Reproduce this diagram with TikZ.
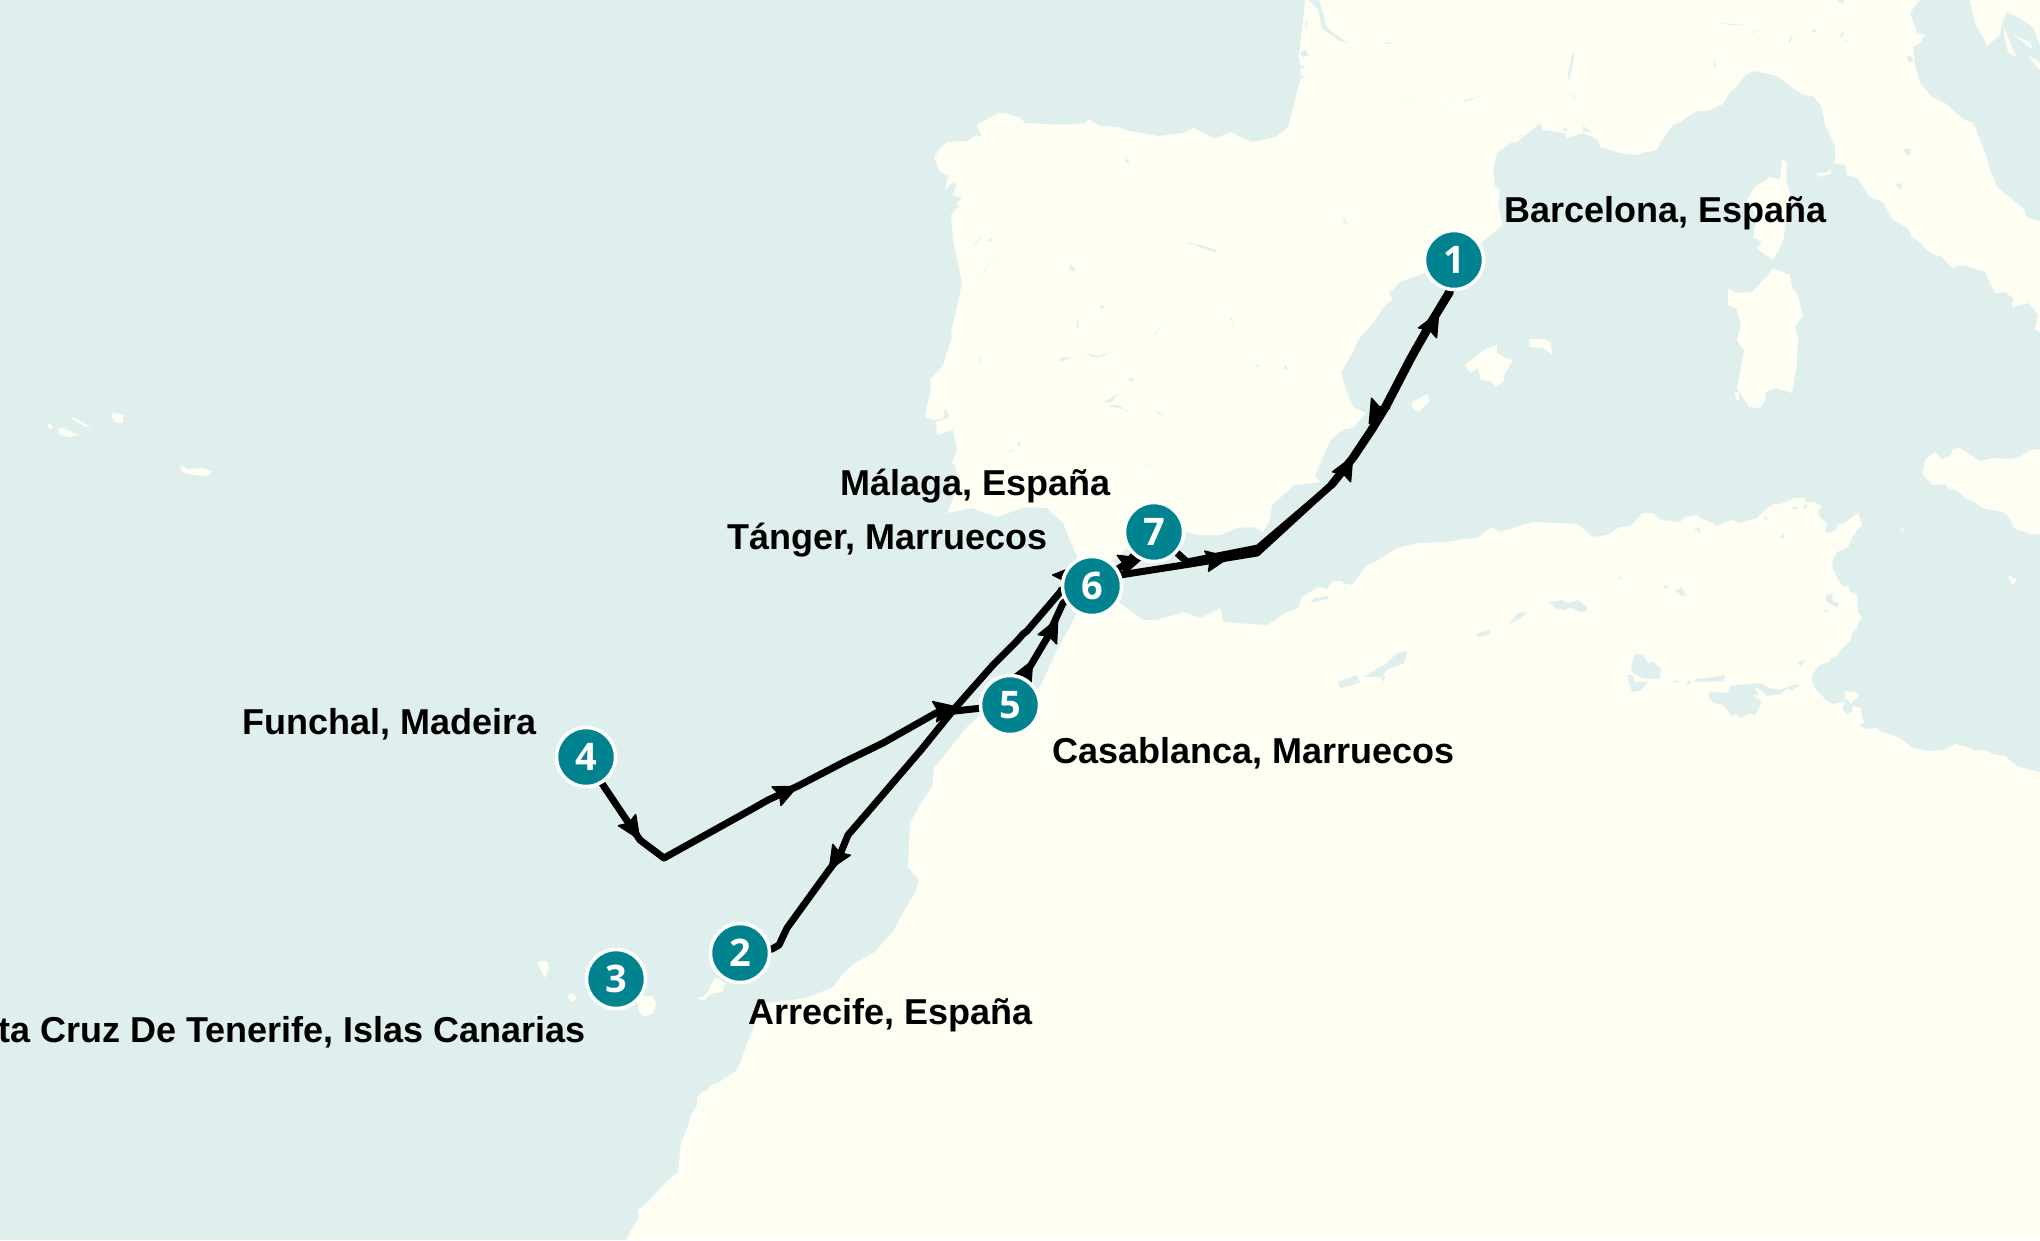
\documentclass[tikz,border=0pt]{standalone}
\usepackage{fontspec}
\setmainfont{Liberation Sans}
\newfontfamily\digfont{Open Sans}
\usetikzlibrary{arrows.meta}
\pgfdeclarelayer{maplayer}
\pgfdeclarelayer{routelayer}
\pgfsetlayers{maplayer,routelayer,main}
\definecolor{seacol}{HTML}{DFEFEE}
\definecolor{landcol}{HTML}{FEFFF2}
\definecolor{tealcol}{HTML}{00838F}
\tikzset{
  land/.style={fill=landcol,draw=none},
  water/.style={fill=seacol,draw=none},
  routeline/.style={draw=black,line width=7pt,line join=round,line cap=round},
  headpart/.style={draw=black,line width=1.5pt,line join=round,-{Stealth[round,length=26pt,width=23pt,inset=4pt]}},
  marker/.style={circle,fill=tealcol,draw=white,line width=3.5pt,minimum size=59pt,inner sep=0pt,text=white,font=\digfont\bfseries\fontsize{38}{38}\selectfont},
  placelabel/.style={inner sep=0pt,text=black,font=\bfseries\fontsize{36}{40}\selectfont},
}
\begin{document}
\begin{tikzpicture}[x=1pt,y=-1pt]
\useasboundingbox (0,0) rectangle (2040,1240);
\clip (0,0) rectangle (2040,1240);

% markers
\node[marker] (m1) at (1454,260) {1};
\node[marker] (m2) at (740,953) {2};
\node[marker] (m3) at (616,979) {3};
\node[marker] (m4) at (586,757) {4};
\node[marker] (m5) at (1010,705) {5};
\node[marker] (m6) at (1092,586) {6};
\node[marker] (m7) at (1154,532) {7};

% labels
\node[placelabel,anchor=base west] (l1) at (1504,222) {Barcelona, España};
\node[placelabel,anchor=base west] (l2) at (748,1024) {Arrecife, España};
\node[placelabel,anchor=base east] (l3) at (586,1042) {Santa Cruz De Tenerife, Islas Canarias};
\node[placelabel,anchor=base west] (l4) at (242,734) {Funchal, Madeira};
\node[placelabel,anchor=base west] (l5) at (1052,763) {Casablanca, Marruecos};
\node[placelabel,anchor=base west] (l6) at (727,549) {Tánger, Marruecos};
\node[placelabel,anchor=base west] (l7) at (840,495) {Málaga, España};

\begin{pgfonlayer}{maplayer}
\fill[seacol] (0,0) rectangle (2040,1240);
% Europe
\fill[land] (1305,0) -- (1303,20) -- (1299,55) -- (1301,77) -- (1295,100) -- (1288,127) -- (1276,137) -- (1263,140) -- (1252,142) -- (1230,132) -- (1217,138) -- (1213,138) -- (1193,128) -- (1183,133) -- (1158,136) -- (1130,131) -- (1117,127) -- (1100,126) -- (1089,119) -- (1085,123) -- (1063,125) -- (1025,123) -- (1020,118) -- (1005,113) -- (998,113) -- (977,125) -- (982,138) -- (977,135) -- (967,141) -- (948,142) -- (940,148) -- (934,158) -- (940,172) -- (948,175) -- (945,190) -- (953,182) -- (957,185) -- (952,195) -- (962,198) -- (955,205) -- (960,205) -- (951,215) -- (953,240) -- (962,283) -- (957,307) -- (951,333) -- (952,337) -- (943,365) -- (930,380) -- (931,388) -- (927,407) -- (925,417) -- (935,420) -- (943,418) -- (945,408) -- (950,417) -- (936,422) -- (937,435) -- (953,430) -- (957,450) -- (952,463) -- (956,467) -- (958,487) -- (947,513) -- (972,508) -- (997,517) -- (1025,507) -- (1047,508) -- (1063,523) -- (1067,533) -- (1073,547) -- (1077,557) -- (1092,575) -- (1117,557) -- (1127,548) -- (1187,532) -- (1200,535) -- (1221,535) -- (1237,528) -- (1254,527) -- (1263,532) -- (1270,520) -- (1272,505) -- (1294,485) -- (1320,482) -- (1315,475) -- (1326,450) -- (1331,440) -- (1342,430) -- (1353,428) -- (1366,413) -- (1353,407) -- (1346,390) -- (1341,373) -- (1355,348) -- (1358,340) -- (1374,322) -- (1385,305) -- (1393,300) -- (1389,293) -- (1400,282) -- (1427,272) -- (1482,242) -- (1493,233) -- (1503,225) -- (1498,207) -- (1500,190) -- (1495,187) -- (1493,170) -- (1497,153) -- (1510,143) -- (1517,142) -- (1540,123) -- (1543,130) -- (1565,133) -- (1567,138) -- (1583,133) -- (1598,140) -- (1600,147) -- (1620,153) -- (1635,155) -- (1647,152) -- (1657,150) -- (1660,143) -- (1673,125) -- (1680,122) -- (1697,111) -- (1707,111) -- (1723,104) -- (1730,92) -- (1738,85) -- (1745,75) -- (1754,71) -- (1777,76) -- (1790,86) -- (1803,95) -- (1813,96) -- (1822,107) -- (1825,125) -- (1835,146) -- (1835,160) -- (1833,163) -- (1845,165) -- (1847,175) -- (1857,178) -- (1870,197) -- (1883,202) -- (1893,220) -- (1908,228) -- (1912,237) -- (1920,242) -- (1930,253) -- (1942,257) -- (1952,268) -- (1963,265) -- (1973,268) -- (1985,272) -- (1995,293) -- (2005,292) -- (2013,298) -- (2012,307) -- (2029,303) -- (2038,315) -- (2035,330) -- (2040,332) -- (2040,222) -- (2027,217) -- (2023,208) -- (2013,200) -- (1997,187) -- (1990,170) -- (1985,152) -- (1973,123) -- (1963,119) -- (1945,103) -- (1932,97) -- (1920,83) -- (1915,65) -- (1913,47) -- (1920,43) -- (1925,35) -- (1917,33) -- (1910,13) -- (1918,2) -- (1920,0) -- cycle;
% Balkans and islands
\fill[land] (1970,0) -- (1975,23) -- (1982,35) -- (1987,46) -- (2000,35) -- (2002,23) -- (2007,12) -- (2018,17) -- (2033,27) -- (2040,45) -- (2040,0) -- cycle;
\fill[land] (2003,25) -- (2010,42) -- (2017,58) -- (2008,52) -- (2005,40) -- cycle;
\fill[land] (2014,35) -- (2030,42) -- (2033,50) -- (2025,44) -- cycle;
\fill[land] (2028,55) -- (2040,62) -- (2040,70) -- (2035,65) -- cycle;
% Corsica
\fill[land] (1782,160) -- (1787,162) -- (1786,180) -- (1790,193) -- (1785,222) -- (1784,238) -- (1780,247) -- (1773,260) -- (1756,248) -- (1762,242) -- (1753,237) -- (1757,217) -- (1747,200) -- (1755,187) -- (1770,177) -- (1780,180) -- cycle;
% Sardinia
\fill[land] (1773,268) -- (1790,275) -- (1792,288) -- (1797,293) -- (1803,315) -- (1795,327) -- (1798,337) -- (1797,363) -- (1792,393) -- (1776,388) -- (1766,392) -- (1765,400) -- (1760,408) -- (1749,407) -- (1737,388) -- (1741,367) -- (1744,350) -- (1737,340) -- (1741,325) -- (1736,308) -- (1728,305) -- (1728,288) -- (1736,293) -- (1752,292) -- (1768,275) -- cycle;
\fill[land] (1735,392) -- (1739,392) -- (1739,400) -- (1736,400) -- cycle;
% Elba
\fill[land] (1817,173) -- (1828,172) -- (1830,168) -- (1831,174) -- (1818,177) -- cycle;
% Balearics
\fill[land] (1465,365) -- (1484,350) -- (1497,345) -- (1497,353) -- (1505,358) -- (1513,360) -- (1505,373) -- (1503,382) -- (1496,386) -- (1489,381) -- (1481,380) -- (1478,368) -- (1470,373) -- cycle;
\fill[land] (1529,339) -- (1545,339) -- (1551,343) -- (1552,354) -- (1543,348) -- (1530,347) -- cycle;
\fill[land] (1412,402) -- (1428,394) -- (1429,402) -- (1418,412) -- (1412,408) -- cycle;
% Sicily, Malta, Pantelleria
\fill[land] (1922,473) -- (1926,459) -- (1935,452) -- (1942,459) -- (1951,455) -- (1953,449) -- (1960,448) -- (1980,461) -- (1993,458) -- (2008,459) -- (2020,457) -- (2030,450) -- (2037,449) -- (2040,450) -- (2040,534) -- (2030,534) -- (2014,528) -- (2009,517) -- (2003,512) -- (1982,508) -- (1973,501) -- (1968,500) -- (1957,491) -- (1948,488) -- (1945,484) -- (1932,485) -- cycle;
\fill[land] (2008,575) -- (2017,580) -- (2013,584) -- (2011,584) -- cycle;
\fill[land] (1900,527) -- (1904,529) -- (1902,532) -- cycle;
% Africa
\fill[land] (626,1240) -- (630,1232) -- (639,1217) -- (638,1210) -- (648,1202) -- (665,1183) -- (678,1172) -- (681,1142) -- (688,1127) -- (690,1117) -- (697,1105) -- (697,1098) -- (702,1092) -- (707,1090) -- (712,1084) -- (718,1083) -- (737,1070) -- (745,1050) -- (747,1043) -- (753,1030) -- (757,1010) -- (767,1003) -- (807,998) -- (833,987) -- (842,975) -- (852,965) -- (875,952) -- (887,938) -- (893,932) -- (900,918) -- (915,893) -- (919,880) -- (908,867) -- (910,823) -- (921,803) -- (932,787) -- (934,768) -- (967,727) -- (982,713) -- (1010,705) -- (1040,687) -- (1057,650) -- (1070,627) -- (1077,613) -- (1092,600) -- (1120,603) -- (1143,620) -- (1157,620) -- (1183,612) -- (1200,618) -- (1217,610) -- (1220,607) -- (1223,622) -- (1250,624) -- (1268,625) -- (1285,613) -- (1298,608) -- (1302,597) -- (1318,587) -- (1327,589) -- (1333,581) -- (1342,581) -- (1343,583) -- (1352,585) -- (1367,565) -- (1375,562) -- (1397,548) -- (1417,543) -- (1447,542) -- (1463,539) -- (1477,538) -- (1492,527) -- (1500,532) -- (1513,528) -- (1533,522) -- (1577,524) -- (1593,537) -- (1607,535) -- (1620,527) -- (1631,526) -- (1642,513) -- (1653,513) -- (1661,520) -- (1680,522) -- (1685,517) -- (1697,515) -- (1702,519) -- (1708,521) -- (1717,526) -- (1731,520) -- (1740,523) -- (1757,518) -- (1766,509) -- (1775,503) -- (1778,505) -- (1795,498) -- (1804,498) -- (1806,502) -- (1814,502) -- (1823,507) -- (1818,510) -- (1819,516) -- (1827,524) -- (1825,532) -- (1828,533) -- (1836,530) -- (1838,524) -- (1843,524) -- (1858,513) -- (1862,525) -- (1857,530) -- (1852,538) -- (1848,547) -- (1837,552) -- (1832,562) -- (1833,570) -- (1842,586) -- (1849,587) -- (1849,591) -- (1857,594) -- (1858,612) -- (1862,617) -- (1857,625) -- (1857,629) -- (1852,633) -- (1850,641) -- (1841,649) -- (1837,656) -- (1832,657) -- (1828,662) -- (1819,665) -- (1812,675) -- (1812,682) -- (1817,691) -- (1826,700) -- (1833,704) -- (1845,702) -- (1842,710) -- (1847,714) -- (1853,711) -- (1853,706) -- (1861,708) -- (1862,718) -- (1865,722) -- (1859,726) -- (1867,729) -- (1877,728) -- (1882,732) -- (1898,737) -- (1913,748) -- (1928,751) -- (1943,750) -- (1956,744) -- (1967,747) -- (1975,751) -- (1985,750) -- (1995,755) -- (2005,756) -- (2017,766) -- (2027,769) -- (2040,772) -- (2040,1240) -- cycle;
\fill[land] (1845,691) -- (1855,692) -- (1859,695) -- (1850,704) -- (1849,700) -- (1845,699) -- cycle;
% Canary islands
\fill[land] (637,1003) -- (642,996) -- (653,996) -- (656,1005) -- (653,1013) -- (645,1017) -- (640,1013) -- cycle;
\fill[land] (715,977) -- (725,983) -- (722,992) -- (710,994) -- (704,1001) -- (697,998) -- (702,997) -- (708,992) -- cycle;
\fill[land] (537,962) -- (547,961) -- (549,968) -- (545,978) -- cycle;
\fill[land] (567,995) -- (573,993) -- (577,998) -- (571,1002) -- cycle;
\fill[land] (533,1016) -- (540,1014) -- (538,1018) -- cycle;
% Azores
\fill[land] (47,425) -- (49,423) -- (53,427) -- (50,429) -- cycle;
\fill[land] (58,429) -- (62,428) -- (79,435) -- (70,437) -- (60,435) -- cycle;
\fill[land] (69,417) -- (77,419) -- (92,428) -- (82,425) -- cycle;
\fill[land] (111,415) -- (113,413) -- (123,415) -- (123,423) -- (115,422) -- cycle;
\fill[land] (180,467) -- (183,466) -- (187,469) -- (203,468) -- (212,471) -- (209,475) -- (202,476) -- (183,473) -- cycle;
% inland water, North Africa
\fill[water] (1310,603) -- (1315,598) -- (1328,596) -- (1328,599) -- cycle;
\fill[water] (1338,682) -- (1356,675) -- (1360,682) -- (1353,685) -- (1340,688) -- cycle;
\fill[water] (1363,677) -- (1387,663) -- (1397,653) -- (1407,651) -- (1405,663) -- (1388,669) -- (1382,677) -- cycle;
\fill[water] (1380,675) -- (1385,677) -- (1383,682) -- cycle;
\fill[water] (1475,634) -- (1490,630) -- (1490,634) -- (1478,637) -- cycle;
\fill[water] (1509,624) -- (1518,613) -- (1526,612) -- (1523,617) -- cycle;
\fill[water] (1549,602) -- (1562,600) -- (1568,603) -- (1578,600) -- (1587,607) -- (1587,611) -- (1580,612) -- (1570,607) -- (1565,610) -- (1555,608) -- cycle;
\fill[water] (1635,654) -- (1643,655) -- (1648,663) -- (1653,662) -- (1661,669) -- (1659,679) -- (1643,678) -- (1633,673) -- (1631,667) -- cycle;
\fill[water] (1627,675) -- (1632,675) -- (1635,682) -- (1647,682) -- (1642,690) -- (1632,692) -- cycle;
\fill[water] (1663,585) -- (1669,587) -- (1666,589) -- cycle;
\fill[water] (1675,591) -- (1682,588) -- (1685,596) -- cycle;
\fill[water] (1619,577) -- (1623,579) -- (1619,579) -- cycle;
\fill[water] (1673,680) -- (1680,682) -- (1673,682) -- cycle;
\fill[water] (1686,684) -- (1690,679) -- (1691,684) -- cycle;
\fill[water] (1693,682) -- (1698,678) -- (1701,679) -- (1725,675) -- (1723,681) -- cycle;
\fill[water] (1708,695) -- (1710,692) -- (1728,693) -- (1730,686) -- (1760,683) -- (1770,688) -- (1780,690) -- (1792,685) -- (1801,684) -- (1793,690) -- (1787,689) -- (1780,694) -- (1767,696) -- (1760,689) -- (1754,687) -- (1759,695) -- (1753,695) -- (1762,702) -- (1755,715) -- (1750,713) -- (1740,718) -- (1735,714) -- (1732,716) -- (1723,705) -- (1713,703) -- cycle;
\fill[water] (1826,595) -- (1832,594) -- (1833,602) -- (1839,602) -- (1837,608) -- (1826,601) -- cycle;
\fill[water] (1823,612) -- (1827,609) -- (1829,611) -- cycle;
\fill[water] (1797,662) -- (1807,660) -- (1800,666) -- cycle;
\fill[water] (1694,529) -- (1700,527) -- (1700,533) -- cycle;
\fill[water] (1792,507) -- (1799,507) -- (1795,510) -- cycle;
\fill[water] (1803,509) -- (1806,502) -- (1807,508) -- cycle;
\fill[water] (1763,516) -- (1768,518) -- (1766,520) -- cycle;
\fill[water] (1779,538) -- (1784,534) -- (1784,538) -- cycle;
\fill[water] (1680,587) -- (1682,587) -- (1685,596) -- (1680,595) -- cycle;
\fill[water] (1125,158) -- (1130,162) -- (1126,163) -- cycle;
% inland water, Iberia
\fill[water] (1186,242) -- (1200,245) -- (1217,250) -- (1215,252) -- (1200,247) -- cycle;
\fill[water] (973,244) -- (983,236) -- (977,243) -- cycle;
\fill[water] (987,241) -- (992,238) -- (991,242) -- cycle;
\fill[water] (982,274) -- (997,253) -- (984,272) -- cycle;
\fill[water] (1068,270) -- (1071,264) -- (1076,271) -- cycle;
\fill[water] (1100,309) -- (1102,304) -- (1104,307) -- cycle;
\fill[water] (1076,328) -- (1077,322) -- (1079,320) -- (1078,327) -- cycle;
\fill[water] (1152,337) -- (1163,325) -- (1155,335) -- cycle;
\fill[water] (1230,318) -- (1232,318) -- (1233,324) -- cycle;
\fill[water] (1060,358) -- (1072,357) -- (1061,362) -- cycle;
\fill[water] (1085,353) -- (1097,356) -- (1111,352) -- (1100,357) -- (1092,357) -- cycle;
\fill[water] (1128,379) -- (1134,378) -- (1132,382) -- cycle;
\fill[water] (1104,402) -- (1118,394) -- (1112,402) -- cycle;
\fill[water] (1107,406) -- (1118,405) -- (1128,412) -- (1120,408) -- cycle;
\fill[water] (1156,410) -- (1163,415) -- (1158,414) -- cycle;
\fill[water] (1255,363) -- (1260,367) -- (1256,366) -- cycle;
\fill[water] (1284,365) -- (1289,369) -- (1285,369) -- cycle;
\fill[water] (979,355) -- (982,362) -- (980,362) -- cycle;
\fill[water] (1008,452) -- (1015,449) -- (1011,452) -- cycle;
\fill[water] (1017,445) -- (1019,441) -- (1021,446) -- cycle;
\fill[water] (1142,466) -- (1152,463) -- (1147,465) -- cycle;
% inland water, France and Italy
\fill[water] (1309,0) -- (1319,0) -- (1322,10) -- (1327,28) -- (1340,38) -- (1348,44) -- (1338,40) -- (1322,28) -- (1318,10) -- cycle;
\fill[water] (1300,53) -- (1305,50) -- (1309,55) -- (1302,57) -- cycle;
\fill[water] (1300,65) -- (1305,67) -- (1300,68) -- cycle;
\fill[water] (1300,75) -- (1306,77) -- (1300,78) -- cycle;
\fill[water] (1305,22) -- (1307,21) -- (1306,30) -- cycle;
\fill[water] (1382,43) -- (1393,42) -- (1388,44) -- cycle;
\fill[water] (1404,93) -- (1412,107) -- (1406,97) -- cycle;
\fill[water] (1438,107) -- (1453,101) -- (1441,106) -- cycle;
\fill[water] (1462,101) -- (1483,95) -- (1467,101) -- cycle;
\fill[water] (1573,50) -- (1574,57) -- (1569,82) -- (1568,75) -- cycle;
\fill[water] (1572,93) -- (1576,98) -- (1574,99) -- cycle;
\fill[water] (1343,217) -- (1348,224) -- (1344,223) -- cycle;
\fill[water] (1562,130) -- (1567,127) -- (1566,132) -- cycle;
\fill[water] (1583,126) -- (1592,132) -- (1583,132) -- cycle;
\fill[water] (1519,137) -- (1523,133) -- (1522,136) -- cycle;
\fill[water] (1722,23) -- (1745,25) -- (1730,25) -- cycle;
\fill[water] (1752,32) -- (1760,30) -- (1753,33) -- cycle;
\fill[water] (1793,32) -- (1788,43) -- (1791,41) -- cycle;
\fill[water] (1813,28) -- (1817,32) -- (1813,32) -- cycle;
\fill[water] (1843,31) -- (1839,38) -- (1843,36) -- cycle;
\fill[water] (1842,43) -- (1852,39) -- (1845,41) -- cycle;
\fill[water] (1714,58) -- (1716,69) -- (1714,67) -- cycle;
\fill[water] (1837,0) -- (1843,0) -- (1843,4) -- cycle;
\fill[water] (1907,56) -- (1912,57) -- (1913,62) -- (1908,62) -- cycle;
\fill[water] (1903,149) -- (1911,149) -- (1910,155) -- (1907,155) -- cycle;
\fill[water] (1896,184) -- (1901,183) -- (1902,189) -- (1898,188) -- cycle;
\end{pgfonlayer}

\begin{pgfonlayer}{routelayer}
% leg 1 to 2
\draw[routeline] (m1) -- (1448,293) -- (1431,321) -- (1410,358) -- (1384,408) -- (1370,431) -- (1352,458) -- (1330,486) -- (1257,553) -- (1190,564) -- (1120,575) -- (m6);
\draw[routeline] (m6) -- (1062,590) -- (1027,631) -- (1023,634) -- (1017,641) -- (993,665) -- (955,708) -- (921,750) -- (867,813) -- (848,835) -- (839,857) -- (829,870) -- (787,928) -- (779,945) -- (772,949) -- (m2);
% leg 4 to 5
\draw[routeline] (m4) -- (603,785) -- (640,840) -- (664,858) -- (745,813) -- (768,800) -- (798,786) -- (844,762) -- (883,743) -- (936,713) -- (m5);
% leg 5 to 6
\draw[routeline] (m5) -- (1028,670) -- (1047,638) -- (1063,603) -- (m6);
% leg 6 to 7
\draw[routeline] (m6) -- (1127,563) -- (m7);
% leg 7 to 1
\draw[routeline] (m7) -- (1187,562) -- (1258,548) -- (1333,484) -- (1355,456) -- (1373,429) -- (1387,406) -- (1413,356) -- (1434,319) -- (1450,293) -- (m1);
% arrowheads
\coordinate (a1a) at (1428,332); \coordinate (a1b) at (1439,312);
\coordinate (a2a) at (1379,406); \coordinate (a2b) at (1369,424);
\coordinate (a3a) at (1342,476); \coordinate (a3b) at (1353,456);
\coordinate (a4a) at (1208,561); \coordinate (a4b) at (1230,557);
\coordinate (a5a) at (1124,564); \coordinate (a5b) at (1143,558);
\coordinate (a6a) at (1075,576); \coordinate (a6b) at (1052,575);
\coordinate (a7a) at (1047,640); \coordinate (a7b) at (1058,618);
\coordinate (a8a) at (1020,684); \coordinate (a8b) at (1033,660);
\coordinate (a9a) at (938,711); \coordinate (a9b) at (958,707);
\coordinate (a10a) at (777,796); \coordinate (a10b) at (798,786);
\coordinate (a11a) at (627,820); \coordinate (a11b) at (640,840);
\coordinate (a12a) at (842,849); \coordinate (a12b) at (829,870);
\foreach \n in {1,...,12} {\draw[headpart] (a\n a) -- (a\n b);}
\end{pgfonlayer}
\end{tikzpicture}
\end{document}
